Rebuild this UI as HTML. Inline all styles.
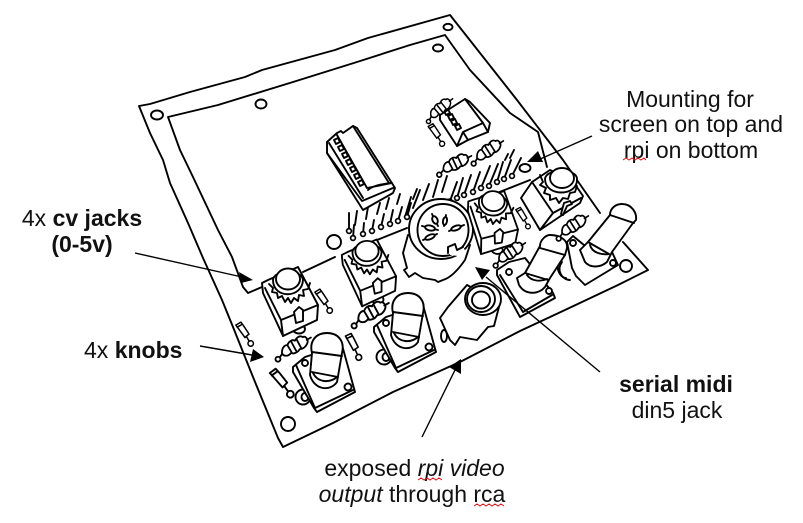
<!DOCTYPE html>
<html>
<head>
<meta charset="utf-8">
<style>
html,body{margin:0;padding:0;background:#fff}
body{width:803px;height:523px;overflow:hidden}
svg{display:block}
text{font-family:"Liberation Sans",sans-serif;font-size:23px;fill:#111}
.m{text-anchor:middle}
.b{font-weight:bold}
.i{font-style:italic}
.l{fill:none;stroke:#000;stroke-width:1.9;stroke-linecap:round;stroke-linejoin:round}
.f{fill:#fff;stroke:#000;stroke-width:1.9;stroke-linejoin:round;stroke-linecap:round}
.w{fill:none;stroke:#d11;stroke-width:1}
</style>
</head>
<body>
<svg width="803" height="523" viewBox="0 0 803 523" xmlns="http://www.w3.org/2000/svg">
<defs>
<g id="jack">
<ellipse class="f" cx="11" cy="48" rx="6" ry="4.5"/>
<path class="f" d="M-26,2 L-20,-1 L10,-14 L30,24 L29,39 L-5,55 L-25,12Z"/>
<path class="l" d="M-23,7 L-7,39 L30,24 M-7,39 L-5,55"/>
<path class="l" d="M-19,3 L-15,7 L-16,11 L-11,12 L-10,17 L-6,15 L-3,21 L0,17 L3,22 L6,17 L10,20 L11,14 L16,15 L15,9 L20,8 L22,2"/>
<path class="f" d="M-15,-1 C-15,18 14,18 15,-1 C14,-12 -14,-12 -15,-1Z"/>
<ellipse class="f" cx="0" cy="-2" rx="12" ry="10.5"/>
<path class="f" d="M6,31 L11,26 L15,29 L15,40 L8,42Z"/>
</g>
<g id="knobA">
<ellipse class="f" cx="303" cy="397" rx="7.5" ry="7.5"/>
<ellipse class="l" cx="305" cy="397" rx="3.5" ry="4"/>
<path class="f" d="M293,367 L305,357 L342,345 L355,392 L317,412 L314,408 L293,372Z"/>
<path class="l" d="M296,365 L315,408 L353,390"/>
<circle class="f" cx="305" cy="363" r="3"/>
<circle class="f" cx="348" cy="387" r="3.5"/>
<path class="f" d="M312,353 C309,341 316,333 327,333 C338,333 345,341 342,353 L337,382 C330,392 314,390 310,375Z"/>
<path class="l" d="M312,352 L342,356 M312,372 L338,377 M313,373 C318,383 330,383 337,377"/>
</g>
<g id="res">
<path class="f" d="M-14,2 C-12,-4 -8,-5 -6,-4 C-3,-8 1,-8 3,-6 C6,-9 10,-10 12,-7 C15,-8 17,-3 15,0 C12,4 8,5 5,4 C2,7 -3,7 -5,5 C-9,8 -14,6 -14,2Z"/>
<path class="l" d="M-6,-4 L-4,5 M-1,-6 L1,5 M5,-7 L7,4 M15,-3 L20,-4 M-14,3 L-18,6"/>
<circle class="f" cx="-20" cy="7" r="2.6"/>
</g>
<g id="res2">
<path class="f" d="M-4,-10 L3,-12 L5,-7 L9,5 L3,8 L-2,-5Z"/>
<path class="l" d="M-3,-7 L4,-9 M5,7 L7,14"/>
<circle class="f" cx="8" cy="17" r="3.4"/>
</g>
</defs>

<!-- board outer -->
<path class="l" d="M139,106 L150,104 L190,92 L245,77 L262,70 L335,50 L368,38 L450,15 L480,53 L517,100 L563,160 L600,213 M623,242 L648,270 L618,285 L565,310 L520,331 L460,362 L393,392 L333,423 L283,447 L278,438 L253,377 L233,327 L222,300 L203,258 L188,223 L170,183 L163,160 L150,133 L139,106"/>
<!-- board inner -->
<path class="l" d="M168,117 L218,105 L293,82 L357,62 L410,45 L445,35 L470,70 L510,113 L538,132 L547,167 M168,117 L180,150 L193,177 L218,230 L232,257 L243,287 L248,293 L262,287 M303,272 L335,257 M377,240 L407,228 M497,193 L530,180"/>
<!-- mounting holes -->
<ellipse class="l" cx="157" cy="115" rx="6" ry="4.5"/>
<ellipse class="l" cx="261" cy="104" rx="5.5" ry="4.5"/>
<ellipse class="l" cx="448" cy="27" rx="4.5" ry="3.2"/>
<ellipse class="l" cx="438" cy="48" rx="5" ry="3.5"/>
<ellipse class="l" cx="525" cy="168" rx="5.5" ry="4"/>
<circle class="l" cx="334" cy="242" r="7"/>
<circle class="l" cx="288" cy="424" r="7"/>
<circle class="l" cx="626" cy="266" r="6"/>

<!-- pins -->
<path class="l" d="M349,231 L349,213 M353,238 L354,225 M355,225 L357,211 M363,234 L364,223 M366,219 L368,207 M372,231 L374,220 M377,214 L380,203 M381,227 L384,214 M386,209 L389,198 M390,224 L393,210 M397,204 L400,194 M398,221 L402,207 M407,217 L411,203 M413,199 L417,189 M405,217 L411,197 M413,208 L420,190 M423,200 L429,184 M433,197 L438,180 M442,192 L447,176 M450,201 L457,182 M457,198 L463,178 M464,195 L471,175 M473,192 L480,172 M481,188 L490,166 M489,186 L498,164 M497,182 L503,162 M504,179 L511,160 M505,160 L508,154 M512,176 L521,158 M514,150 L510,158"/>
<g fill="#fff" stroke="#000" stroke-width="1.7">
<circle cx="349" cy="231" r="2.4"/><circle cx="353" cy="238" r="2.4"/><circle cx="363" cy="234" r="2.4"/><circle cx="372" cy="231" r="2.4"/><circle cx="381" cy="227" r="2.4"/><circle cx="390" cy="224" r="2.4"/><circle cx="398" cy="221" r="2.4"/><circle cx="407" cy="217" r="2.4"/>
<circle cx="450" cy="201" r="2"/><circle cx="457" cy="198" r="2.4"/><circle cx="464" cy="195" r="2.4"/><circle cx="473" cy="192" r="2.4"/><circle cx="481" cy="188" r="2.4"/><circle cx="489" cy="186" r="2.4"/><circle cx="497" cy="182" r="2.4"/><circle cx="504" cy="179" r="2.4"/><circle cx="512" cy="176" r="2.4"/>
</g>

<!-- IC chip -->
<path class="f" d="M327,142 L337,133 L341,131 L343,133 L353,126 L357,128 L395,188 L393,193 L363,210 L327,153Z"/>
<path class="l" d="M327,153 L362,201 L393,188 M329,143 L363,198 M337,135 L367,188 L392,183 M353,126 L389,183 M368,190 C372,186 382,184 391,183"/>
<path class="l" d="M334,140 L338,138 L340,142 L336,144Z M338,147 L342,145 L344,149 L340,151Z M342,154 L346,152 L348,156 L344,158Z M346,161 L350,159 L352,163 L348,165Z M350,168 L354,166 L356,170 L352,172Z M354,175 L358,173 L360,177 L356,179Z M358,182 L362,180 L364,184 L360,186Z"/>

<!-- top connector -->
<path class="f" d="M440,115 L465,99 L470,102 L490,123 L488,132 L468,140 L457,146 L440,120Z"/>
<path class="l" d="M465,99 L483,123 L463,132 L457,146 M463,132 L468,140 M483,123 L488,132"/>
<path class="l" d="M444,111 L448,109 L450,113 L446,115Z M448,116 L452,114 L454,118 L450,120Z M451,121 L455,119 L457,123 L453,125Z M455,126 L459,124 L461,128 L457,130Z"/>
<use href="#res" transform="translate(440,109) rotate(-28) scale(.8)"/>
<use href="#res2" transform="translate(433,133) rotate(-15) scale(.75)"/>

<!-- resistors upper -->
<use href="#res" transform="translate(455,164) rotate(-15) scale(.9)"/>
<use href="#res" transform="translate(488,151) rotate(-22) scale(.9)"/>

<!-- DIN jack -->
<path class="f" d="M408,235 L403,253 L407,268 L404,270 L409,277 L415,273 L423,278 L435,280 L438,282 L443,280 C450,278 458,270 465,260 L470,245Z"/>
<ellipse class="f" cx="441" cy="229" rx="32" ry="30"/>
<ellipse class="f" cx="443" cy="230" rx="25.5" ry="26"/>
<path class="f" d="M448,247 L455,244 L457,250 L463,247 L466,252 L458,256 L450,255Z" stroke="none" style="stroke:none"/>
<path class="l" d="M448,253 L448,247 L455,244 L457,250 L463,247"/>
<path class="l" d="M432,214 L438,226 M446,215 L444,226 M449,231 L464,225 M422,226 L438,230 M423,240 L437,234"/>
<ellipse class="f" cx="435" cy="220" rx="2.5" ry="4" transform="rotate(-25 435 220)"/>
<ellipse class="f" cx="445" cy="221" rx="2" ry="4" transform="rotate(10 445 221)"/>
<ellipse class="f" cx="456" cy="228" rx="5" ry="2.2" transform="rotate(-20 456 228)"/>
<ellipse class="f" cx="430" cy="228" rx="5" ry="2.5" transform="rotate(12 430 228)"/>
<ellipse class="f" cx="430" cy="237" rx="5" ry="2.2" transform="rotate(-22 430 237)"/>

<!-- Jacks -->
<use href="#jack" transform="translate(288,281)"/>
<use href="#jack" transform="translate(367,253) scale(.97)"/>
<use href="#jack" transform="translate(493,203) rotate(8) scale(.95)"/>
<!-- jack 4 -->
<path class="f" d="M532,182 L521,198 L540,230 L580,203 L583,196 L572,180 L550,170Z"/>
<path class="l" d="M532,182 L553,213 L581,198 M553,213 L540,230"/>
<path class="l" d="M540,175 L543,182 L540,185 L546,188 L544,193 L550,195 L550,200 L556,198 L559,203 L563,198 L568,199 L570,193 L575,192 L577,186"/>
<path class="f" d="M545,179 C545,197 578,197 577,179 C577,168 546,168 545,179Z"/>
<ellipse class="f" cx="562" cy="178" rx="12" ry="10"/>
<path class="f" d="M564,203 L570,201 L572,204 L567,206 L563,215 L561,214Z"/>

<!-- RCA -->
<path class="f" d="M467,285 L448,307 L440,318 L450,340 L455,345 L460,337 L477,340 L488,327 L494,326 L500,303Z"/>
<ellipse class="f" cx="444" cy="336" rx="3" ry="6"/>
<ellipse class="f" cx="483" cy="299" rx="18" ry="16"/>
<ellipse class="f" cx="481" cy="299" rx="14" ry="13"/>
<ellipse class="f" cx="481" cy="300" rx="9" ry="8.5"/>

<!-- Knobs 1, 2 -->
<use href="#knobA"/>
<use href="#knobA" transform="translate(81,-40)"/>

<!-- Knob 4 -->
<path class="l" d="M562,262 C556,270 562,280 570,280"/>
<path class="f" d="M567,242 L573,236 L590,250 L612,252 L618,265 L585,285 L580,280 L576,276 L572,268 Z"/>
<circle class="f" cx="573" cy="243" r="3"/>
<circle class="f" cx="613" cy="263" r="3"/>
<path class="f" d="M610,215 C610,208 616,204 622,204 C631,204 637,212 636,220 L633,223 L612,252 L607,262 C600,268 590,268 585,262 L580,250 L588,242Z"/>
<path class="l" d="M610,215 L634,223 M588,242 L609,254 M590,245 C592,253 602,255 609,254"/>

<!-- Knob 3 -->
<path class="l" d="M558,262 C556,272 562,278 566,278"/>
<path class="f" d="M497,270 L509,262 L525,258 L553,293 L555,298 L520,317 L497,275Z"/>
<path class="l" d="M500,275 L523,312 L552,295"/>
<circle class="f" cx="509" cy="272" r="3"/>
<circle class="f" cx="549" cy="291" r="3"/>
<path class="f" d="M540,246 C540,240 546,235 550,235 C560,235 568,240 567,248 L565,255 L550,278 L545,287 C538,295 525,295 519,285 L517,278 L525,273Z"/>
<path class="l" d="M540,248 L565,255 M525,273 L548,280 M527,275 C531,281 540,282 547,279"/>

<!-- Resistors lower -->
<use href="#res" transform="translate(294,347) rotate(-18) scale(.95)"/>
<use href="#res" transform="translate(371,313) rotate(-18)"/>
<use href="#res" transform="translate(510,253) rotate(-22) scale(.9)"/>
<use href="#res" transform="translate(573,226) rotate(-22) scale(.9)"/>
<use href="#res2" transform="translate(320,299) rotate(-15) scale(.8)"/>
<use href="#res2" transform="translate(241,332) rotate(-15) scale(.8)"/>
<use href="#res2" transform="translate(350,344) rotate(-8) scale(.85)"/>
<use href="#res2" transform="translate(277,381) rotate(-20) scale(1)"/>
<use href="#res2" transform="translate(520,216) rotate(-12) scale(.7)"/>

<!-- Arrows -->
<path fill="none" stroke="#000" stroke-width="1.4" d="M592,136 L538,160 M135,253 L242,277 M200,346 L252,355 M600,372 L486,277 M422,437 L455,370"/>
<polygon points="527,162 538,151 543,162"/>
<polygon points="239,272 253,280 241,283"/>
<polygon points="253,349 264,357 250,362"/>
<polygon points="475,267 490,270 482,280"/>
<polygon points="461,359 461,374 449,367"/>

<!-- Labels -->
<text class="m" x="690" y="107">Mounting for</text>
<text class="m" x="691" y="132">screen on top and</text>
<text class="m" x="691" y="158">rpi on bottom</text>
<path class="w" d="M623,160 l3,-2 l3,2 l3,-2 l3,2 l3,-2 l3,2 l3,-2 l2,2"/>
<text class="m" x="82" y="226">4x <tspan class="b">cv jacks</tspan></text>
<text class="m b" x="82" y="252">(0-5v)</text>
<text x="84" y="358">4x <tspan class="b">knobs</tspan></text>
<text class="m b" x="676" y="392">serial midi</text>
<text class="m" x="677" y="418">din5 jack</text>
<text class="m" x="414.5" y="476">exposed <tspan class="i">rpi video</tspan></text>
<path class="w" d="M418,480 l3,-2 l3,2 l3,-2 l3,2 l3,-2 l3,2 l3,-2 l3,2"/>
<text class="m" x="412" y="502"><tspan class="i">output</tspan> through rca</text>
<path class="w" d="M474,506 l3,-2 l3,2 l3,-2 l3,2 l3,-2 l3,2 l3,-2 l3,2 l3,-2 l3,2"/>
</svg>
</body>
</html>
